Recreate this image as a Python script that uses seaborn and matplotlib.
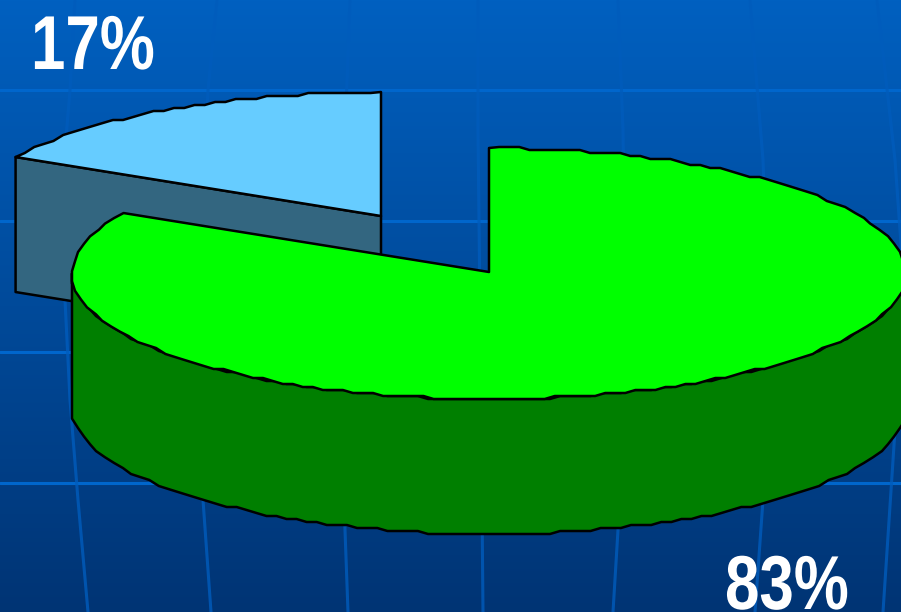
import numpy as np
import matplotlib
matplotlib.use("Agg")
import matplotlib.pyplot as plt
from matplotlib.colors import LinearSegmentedColormap
from matplotlib.patches import Polygon
from matplotlib.patheffects import AbstractPathEffect
from matplotlib.transforms import Affine2D
import seaborn as sns

# Data
categories = ["Blue", "Green"]
shares = [17, 83]
labels = ["17%", "83%"]

# Styles
top_colors = sns.color_palette(["#66CCFF", "#00FF00"])
side_colors = sns.color_palette(["#336680", "#007F00"])
bg_top, bg_bottom = "#0060C0", "#003474"
h_line_color = "#0066CC"
v_line_color = "#005CBC"

W, H = 901, 612
RX, RY, DEPTH = 417, 125.5, 135
RIM_SHIFT = 1.5
CENTERS = {"Blue": (381, 216), "Green": (489, 272)}
LABEL_POS = {"Blue": (31, 69), "Green": (725, 609)}
STEP_LEN, GRID = 10.0, 3.0

sns.set_theme(style="white")
plt.rcParams["font.family"] = ["Liberation Sans", "DejaVu Sans"]

fig = plt.figure(figsize=(W / 100, H / 100), dpi=100)
ax = fig.add_axes([0, 0, 1, 1])
ax.set_xlim(0, W)
ax.set_ylim(H, 0)
ax.axis("off")

# Background
cmap = LinearSegmentedColormap.from_list("bg", [bg_top, bg_bottom])
ax.imshow(np.linspace(0, 1, 256)[:, None], extent=(0, W, H, 0), aspect="auto", cmap=cmap, zorder=0)
for y in [90, 221, 352, 483]:
    ax.plot([0, W], [y, y], color=h_line_color, lw=2.2, zorder=1)
meridians = [
    [(75, 0), (70, 90), (65, 150), (65, 300), (70, 400), (78, 500), (88, 612)],
    [(217, 0), (208, 90), (203, 200), (198, 350), (203, 500), (211, 612)],
    [(350, 0), (345, 135), (342, 400), (345, 530), (348, 612)],
    [(478, 0), (478, 130), (481, 400), (483, 612)],
    [(618, 0), (623, 130), (625, 300), (618, 530), (613, 612)],
    [(750, 0), (763, 160), (768, 300), (763, 500), (755, 612)],
    [(877, 0), (895, 160), (905, 300), (895, 430), (883, 612)],
]
for m in meridians:
    xs, ys = zip(*m)
    ax.plot(xs, ys, color=v_line_color, lw=2.2, alpha=0.8, zorder=1)


def rim(center, start, end, drop=0.0):
    """Rim of the tilted disc, angle clockwise from 12 o'clock, with the stepped look."""
    t = np.radians(np.linspace(start, end, 2000))
    x = center[0] + RX * np.sin(t)
    y = center[1] + RIM_SHIFT - RY * np.cos(t)
    s = np.r_[0, np.cumsum(np.hypot(np.diff(x), np.diff(y)))]
    at = np.linspace(0, s[-1], max(int(s[-1] / STEP_LEN), 2))
    x2, y2 = np.interp(at, s, x), np.interp(at, s, y)
    flat = np.abs(np.cos(np.interp(at, s, t))) > 0.5
    y2[flat] = np.round(y2[flat] / GRID) * GRID
    x2[~flat] = np.round(x2[~flat] / GRID) * GRID
    x2[[0, -1]] = x[[0, -1]]
    y2[[0, -1]] = y[[0, -1]]
    return np.column_stack([x2, y2 + drop])


class Condense(AbstractPathEffect):
    """Narrows the glyphs horizontally about the text's left edge."""

    def __init__(self, x0, factor):
        super().__init__()
        self.x0, self.factor = x0, factor

    def draw_path(self, renderer, gc, tpath, affine, rgbFace=None):
        squeeze = Affine2D().translate(-self.x0, 0).scale(self.factor, 1).translate(self.x0, 0)
        renderer.draw_path(gc, tpath, affine + squeeze, rgbFace)


edge = dict(edgecolor="black", linewidth=1.8, joinstyle="round", zorder=3)
total = sum(shares)
green_end = 360 * shares[1] / total   # green runs clockwise from 12 o'clock
cb, cg = CENTERS["Blue"], CENTERS["Green"]

# Blue wedge
b_rim = rim(cb, green_end, 360)
tip = b_rim[0]
ax.add_patch(Polygon([tip, cb, (cb[0], cb[1] + DEPTH), (tip[0], tip[1] + DEPTH)],
                     facecolor=side_colors[0], **edge))
ax.add_patch(Polygon(np.vstack([[cb], b_rim]), facecolor=top_colors[0], **edge))

# Green wedge
front_top = rim(cg, 270, 90)
front_bot = rim(cg, 90, 270, DEPTH)
ax.add_patch(Polygon(np.vstack([front_top, front_bot]), facecolor=side_colors[1], **edge))
ax.add_patch(Polygon(np.vstack([[cg], rim(cg, 0, green_end)]), facecolor=top_colors[1], **edge))

for cat, lab in zip(categories, labels):
    x, y = LABEL_POS[cat]
    t = ax.text(x, y, lab, color="white", fontsize=55, fontweight="bold",
                ha="left", va="baseline", zorder=5)
    x0 = ax.transData.transform((x, y))[0]
    t.set_path_effects([Condense(x0, 0.81)])

fig.savefig("out.png", dpi=100)
